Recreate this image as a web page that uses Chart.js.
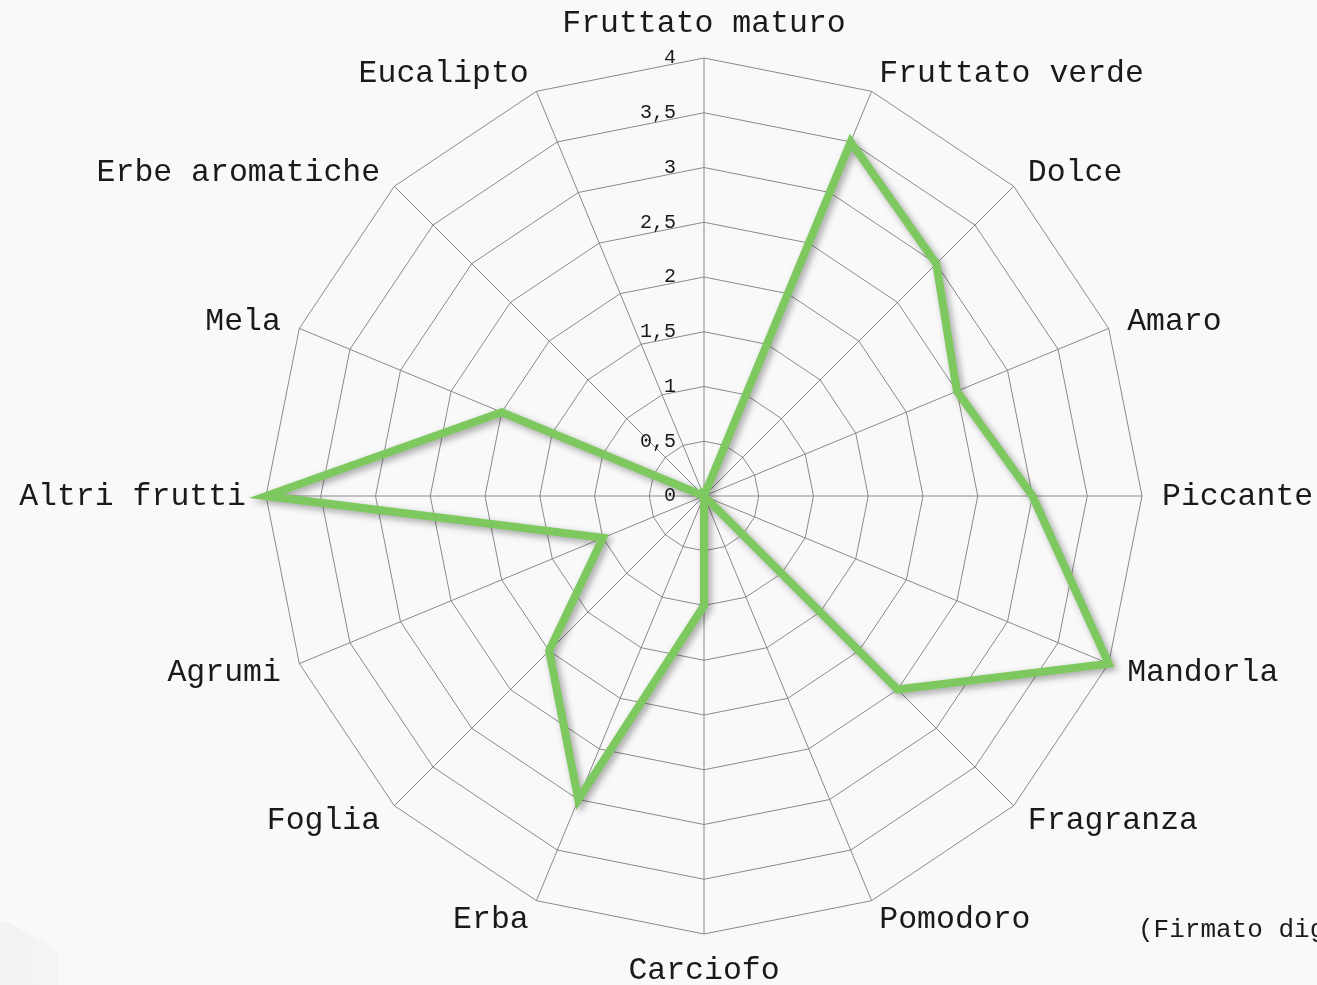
<!DOCTYPE html>
<html>
<head>
<meta charset="utf-8">
<script src="https://cdn.jsdelivr.net/npm/chart.js@4/dist/chart.umd.min.js"></script>
<style>
  html, body { margin: 0; padding: 0; background: #f9f9f9; overflow: hidden; }
  .wrap { position: relative; width: 1317px; height: 985px; }
  .firma {
    position: absolute; left: 1138px; top: 915px; white-space: nowrap;
    font-family: "Liberation Mono", monospace; font-size: 26px; color: #1a1a1a;
  }
  /* riflesso chiaro in basso a sinistra */
  .angolo {
    position: absolute; left: 0; top: 922px; width: 58px; height: 63px;
    background: linear-gradient(to right, #f2f2f2, #f5f5f5);
    clip-path: polygon(0 0, 8px 0, 58px 28px, 58px 63px, 0 63px);
  }
</style>
</head>
<body>
<div class="wrap">
  <div class="angolo"></div>
  <canvas id="radarChart" width="1317" height="985" style="position:absolute;left:0;top:0"></canvas>
  <div class="firma">(Firmato digitalmente)</div>
</div>
<script>
// categorie (in senso orario dall'alto)
const categories = [
  'Fruttato maturo', 'Fruttato verde', 'Dolce', 'Amaro', 'Piccante',
  'Mandorla', 'Fragranza', 'Pomodoro', 'Carciofo', 'Erba', 'Foglia',
  'Agrumi', 'Altri frutti', 'Mela', 'Erbe aromatiche', 'Eucalipto'
];
const values = [0, 3.5, 3, 2.5, 3, 4, 2.5, 0, 1, 3, 2, 1, 4, 2, 0, 0];
const tickValues = [0, 0.5, 1, 1.5, 2, 2.5, 3, 3.5, 4];

const labelFont = '31.5px "Liberation Mono", monospace';

function formatTick(v) {
  return String(v).replace('.', ',');
}

// etichette dei valori a sinistra dell'asse verticale (incluso lo 0)
const tickLabelPlugin = {
  id: 'tickLabels',
  afterDraw(chart) {
    const scale = chart.scales.r;
    const ctx = chart.ctx;
    ctx.save();
    ctx.font = '20px "Liberation Mono", monospace';
    ctx.fillStyle = '#1a1a1a';
    ctx.textAlign = 'right';
    ctx.textBaseline = 'middle';
    tickValues.forEach(v => {
      const d = scale.getDistanceFromCenterForValue(v);
      ctx.fillText(formatTick(v), scale.xCenter - 28, scale.yCenter - d);
    });
    ctx.restore();
  }
};

// nomi delle categorie attorno al grafico
const pointLabelPlugin = {
  id: 'categoryLabels',
  afterDraw(chart) {
    const scale = chart.scales.r;
    const ctx = chart.ctx;
    const n = categories.length;
    ctx.save();
    ctx.font = labelFont;
    ctx.fillStyle = '#1a1a1a';
    categories.forEach((name, i) => {
      const p = scale.getPointPosition(i, scale.drawingArea + 20);
      if (i === 0) {
        ctx.textAlign = 'center';
        ctx.textBaseline = 'bottom';
      } else if (i === n / 2) {
        ctx.textAlign = 'center';
        ctx.textBaseline = 'top';
      } else {
        ctx.textAlign = i < n / 2 ? 'left' : 'right';
        ctx.textBaseline = 'middle';
      }
      ctx.fillText(name, p.x, p.y + 1);
    });
    ctx.restore();
  }
};

// ombra sotto la linea verde
const shadowPlugin = {
  id: 'lineShadow',
  beforeDatasetDraw(chart) {
    const ctx = chart.ctx;
    ctx.save();
    ctx.shadowColor = 'rgba(0, 0, 0, 0.35)';
    ctx.shadowBlur = 7;
    ctx.shadowOffsetX = 3;
    ctx.shadowOffsetY = 3;
  },
  afterDatasetDraw(chart) {
    chart.ctx.restore();
  }
};

const ctx = document.getElementById('radarChart').getContext('2d');
new Chart(ctx, {
  type: 'radar',
  data: {
    labels: categories,
    datasets: [{
      data: values,
      borderColor: '#7dc95f',
      borderWidth: 8,
      backgroundColor: 'transparent',
      fill: false,
      pointRadius: 0,
      pointHoverRadius: 0,
      tension: 0
    }]
  },
  options: {
    responsive: false,
    animation: false,
    layout: { padding: { left: 266, right: 175, top: 58, bottom: 51 } },
    plugins: {
      legend: { display: false },
      tooltip: { enabled: false }
    },
    scales: {
      r: {
        min: 0,
        max: 4,
        ticks: { display: false, stepSize: 0.5 },
        grid: { color: '#8a8a8a', lineWidth: 1 },
        angleLines: { color: '#8a8a8a', lineWidth: 1 },
        pointLabels: { display: false }
      }
    }
  },
  plugins: [shadowPlugin, tickLabelPlugin, pointLabelPlugin]
});
</script>
</body>
</html>
